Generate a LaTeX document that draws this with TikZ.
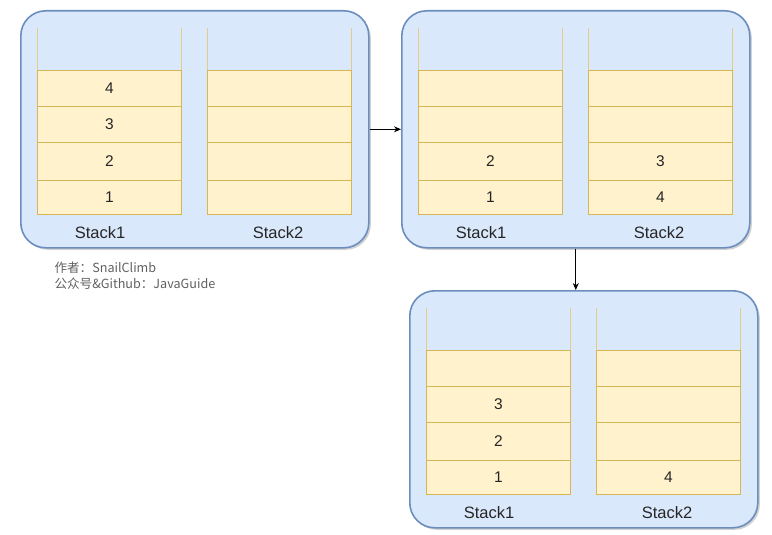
\documentclass[tikz,border=0pt]{standalone}
\usepackage{fontspec}
\setmainfont{Liberation Sans}
\newfontfamily\cjkfont{Noto Sans CJK SC}
\usepackage{tikz}
\usetikzlibrary{
  arrows.meta,
  shadows
}
\definecolor{PanelBlue}{HTML}{DAE8FC}
\definecolor{PanelLine}{HTML}{6C8EBF}
\definecolor{CellYellow}{HTML}{FFF2CC}
\definecolor{CellLine}{HTML}{D6B656}
\definecolor{NoteGray}{HTML}{606060}
\tikzset{
  % Rounded panel holding two stacks
  panel/.style={
    rectangle, rounded corners=25pt,
    draw=PanelLine, fill=PanelBlue, line width=1.6pt,
    minimum width=348pt, minimum height=237pt,
    anchor=north west, inner sep=0pt,
    drop shadow={shadow xshift=2pt, shadow yshift=-2pt, opacity=0.3, fill=black!60}
  },
  % One slot of a stack
  cell/.style={
    rectangle, draw=CellLine, fill=CellYellow, line width=0.8pt,
    minimum width=144pt, anchor=north west, inner sep=0pt
  },
  % Open side of a stack
  wall/.style={draw=CellLine!70, line width=0.8pt},
  % Numbers and captions
  num/.style={font=\fontsize{15.5}{16}\selectfont, text=black!85},
  lbl/.style={font=\fontsize{16.5}{17}\selectfont, text=black!85},
  note/.style={font=\cjkfont\fontsize{12.6}{16}\selectfont, text=NoteGray, align=left},
  % Arrow
  arr/.style={-{Stealth[length=7pt,width=6pt]}, line width=0.8pt, color=black}
}

\begin{document}
\begin{tikzpicture}[x=1pt,y=-1pt]

  \useasboundingbox (0,0) rectangle (772,535);

  % Panels with two stacks each
  \foreach \p/\px/\py in {1/20/10, 2/401/10, 3/409/290}{
    \node[panel] (q\p) at (\px,\py) {};
    \foreach \s/\sx/\lx in {1/17/80, 2/187/258}{
      \foreach \r/\ry/\rh in {1/60/36, 2/96/36, 3/132/38, 4/170/34}
        \node[cell, minimum height=\rh pt] (q\p-\s-\r) at ({\px+\sx},{\py+\ry}) {};
      \draw[wall] (q\p-\s-1.north west) -- ++(0,-42);
      \draw[wall] (q\p-\s-1.north east) -- ++(0,-42);
      \node[lbl] (q\p-l\s) at ({\px+\lx},{\py+223}) {Stack\s};
    }
  }

  % Stack contents
  \foreach \c/\t in {q1-1-1/4, q1-1-2/3, q1-1-3/2, q1-1-4/1,
                     q2-1-3/2, q2-1-4/1, q2-2-3/3, q2-2-4/4,
                     q3-1-2/3, q3-1-3/2, q3-1-4/1, q3-2-4/4}
    \node[num] at (\c) {\t};

  % Moves
  \draw[arr] (q1.east) -- (q2.west);
  \draw[arr] (q2.south) -- (q2.south |- q3.north);

  % Author note
  \node[note, anchor=west] (author) at (51,276) {作者：SnailClimb\\公众号\&Github：JavaGuide};

\end{tikzpicture}
\end{document}
